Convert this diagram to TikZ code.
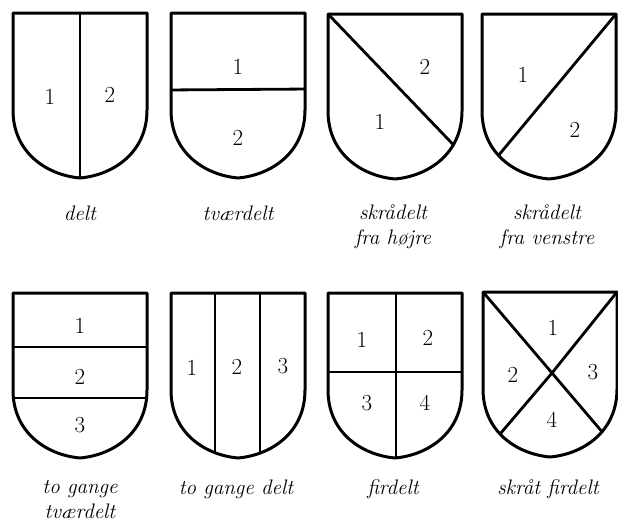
\documentclass[tikz,border=0pt]{standalone}
\usepackage{fontspec}
\setmainfont{Latin Modern Roman}
\begin{document}
\begin{tikzpicture}[x=1pt,y=-1pt,
  outline/.style={line width=3pt,line join=round},
  divline/.style={line width=2.8pt},
  num/.style={font=\fontsize{23}{26}\selectfont,inner sep=0pt},
  lab/.style={font=\fontsize{21}{25}\selectfont\itshape,align=center,inner sep=0pt}]
\def\shield{(0,0) -- (134,0) -- (134,97) .. controls (134,140) and (100,162) .. (67,165) .. controls (34,162) and (0,140) .. (0,97) -- cycle}
\useasboundingbox (0,0) rectangle (618,522);
% ---- row 1 ----
% delt
\begin{scope}[shift={(13,13)}]
  \begin{scope}\clip \shield; \draw[divline] (67,-5) -- (67,170); \end{scope}
  \draw[outline] \shield;
  \node[num] (a1) at (37,84) {1};
  \node[num] (a2) at (97,82) {2};
\end{scope}
% tvaerdelt
\begin{scope}[shift={(171,13)}]
  \begin{scope}\clip \shield; \draw[divline] (-5,77) -- (140,76); \end{scope}
  \draw[outline] \shield;
  \node[num] (b1) at (67,54) {1};
  \node[num] (b2) at (67,125) {2};
\end{scope}
% skraadelt fra hoejre
\begin{scope}[shift={(328,14)}]
  \begin{scope}\clip \shield; \draw[divline] (0,0) -- (186,194); \end{scope}
  \draw[outline] \shield;
  \node[num] (c2) at (97,53) {2};
  \node[num] (c1) at (52,108) {1};
\end{scope}
% skraadelt fra venstre
\begin{scope}[shift={(482,14)}]
  \begin{scope}\clip \shield; \draw[divline] (134,0) -- (-38,207); \end{scope}
  \draw[outline] \shield;
  \node[num] (d1) at (41,61) {1};
  \node[num] (d2) at (93,116) {2};
\end{scope}
\node[lab] (la) at (80,213) {delt};
\node[lab] (lb) at (238,213) {tværdelt};
\node[lab] (lc) at (393,227) {skrådelt\\fra højre};
\node[lab] (ld) at (547,227) {skrådelt\\fra venstre};
% ---- row 2 ----
% to gange tvaerdelt
\begin{scope}[shift={(13,293)}]
  \begin{scope}\clip \shield;
    \draw[divline] (-5,54) -- (140,54);
    \draw[divline] (-5,105) -- (140,105);
  \end{scope}
  \draw[outline] \shield;
  \node[num] (e1) at (67,33) {1};
  \node[num] (e2) at (67,84) {2};
  \node[num] (e3) at (67,132) {3};
\end{scope}
% to gange delt
\begin{scope}[shift={(171,293)}]
  \begin{scope}\clip \shield;
    \draw[divline] (44,-5) -- (44,170);
    \draw[divline] (89,-5) -- (89,170);
  \end{scope}
  \draw[outline] \shield;
  \node[num] (f1) at (21,75) {1};
  \node[num] (f2) at (66,74) {2};
  \node[num] (f3) at (112,73) {3};
\end{scope}
% firdelt
\begin{scope}[shift={(328,293)}]
  \begin{scope}\clip \shield;
    \draw[divline] (68,-5) -- (68,170);
    \draw[divline] (-5,79) -- (140,79);
  \end{scope}
  \draw[outline] \shield;
  \node[num] (g1) at (34,47) {1};
  \node[num] (g2) at (100,45) {2};
  \node[num] (g3) at (39,110) {3};
  \node[num] (g4) at (97,110) {4};
\end{scope}
% skraat firdelt
\begin{scope}[shift={(483,292)}]
  \begin{scope}\clip \shield;
    \draw[divline] (0,0) -- (69,81) -- (155,182);
    \draw[divline] (134,0) -- (69,81) -- (-17,182);
  \end{scope}
  \draw[outline] \shield;
  \node[num] (h1) at (70,36) {1};
  \node[num] (h2) at (30,83) {2};
  \node[num] (h3) at (110,80) {3};
  \node[num] (h4) at (69,128) {4};
\end{scope}
\node[lab] (le) at (80,500) {to gange\\tværdelt};
\node[lab] (lf) at (236,489) {to gange delt};
\node[lab] (lg) at (393,489) {firdelt};
\node[lab] (lh) at (548,489) {skråt firdelt};
\end{tikzpicture}
\end{document}
